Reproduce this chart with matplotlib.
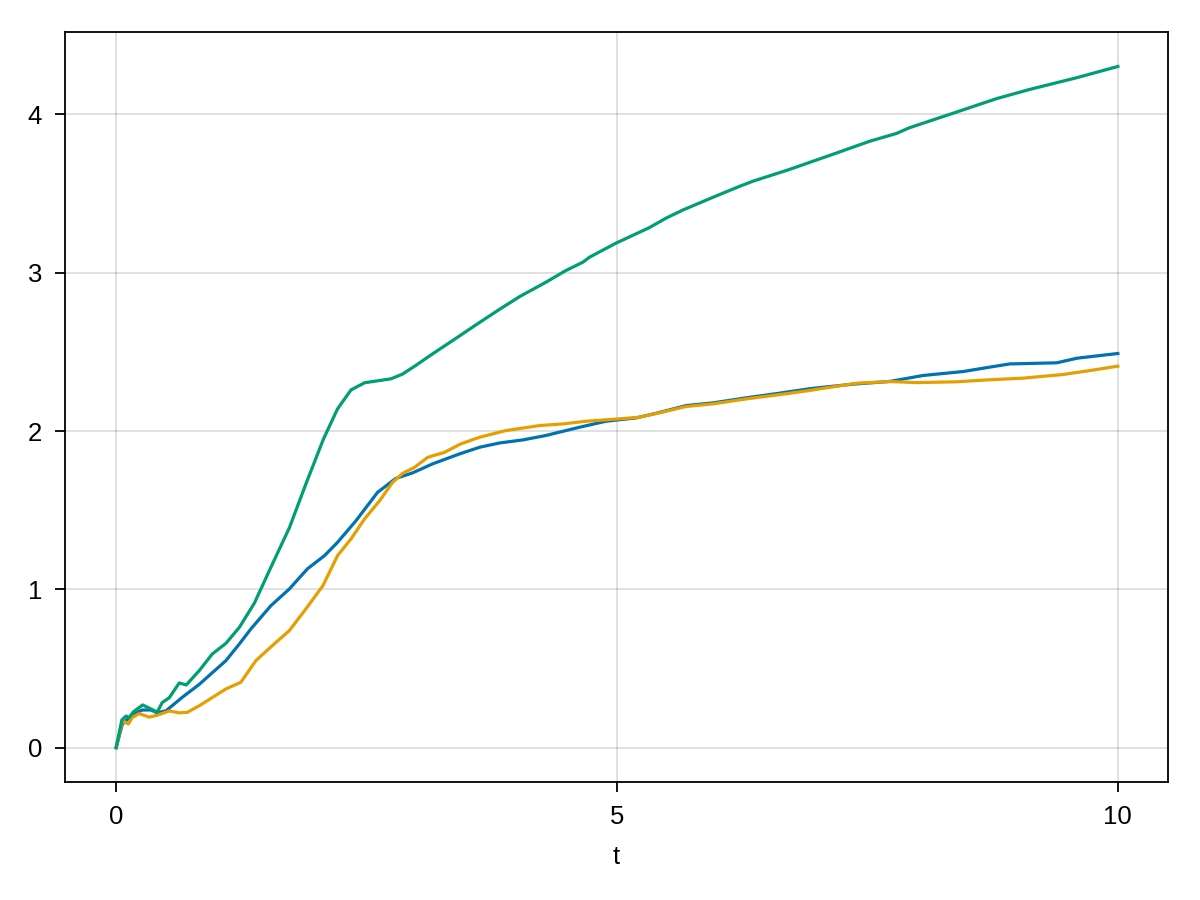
import matplotlib
matplotlib.use("Agg")
import matplotlib.pyplot as plt

plt.rcParams['font.family'] = ['Liberation Sans', 'DejaVu Sans']

# values
t_blue = [0, 0.063, 0.16, 0.26, 0.35, 0.41, 0.50, 0.66, 0.83, 1.096, 1.23, 1.345,
          1.545, 1.73, 1.91, 2.08, 2.21, 2.395, 2.61, 2.79, 2.96, 3.16, 3.43, 3.63,
          3.83, 4.06, 4.29, 4.625, 4.89, 5.19, 5.39, 5.69, 5.96, 6.29, 6.62, 6.92,
          7.06, 7.39, 7.72, 8.055, 8.455, 8.655, 8.92, 9.39, 9.59, 10.0]
y_blue = [0, 0.15, 0.205, 0.238, 0.238, 0.22, 0.234, 0.318, 0.40, 0.55, 0.655, 0.75,
          0.897, 1.003, 1.13, 1.213, 1.297, 1.434, 1.613, 1.70, 1.736, 1.793, 1.856, 1.898,
          1.925, 1.944, 1.972, 2.024, 2.062, 2.083, 2.112, 2.161, 2.178, 2.21, 2.239, 2.267,
          2.277, 2.298, 2.313, 2.351, 2.376, 2.397, 2.424, 2.431, 2.46, 2.49]

t_orange = [0, 0.063, 0.123, 0.16, 0.23, 0.33, 0.41, 0.53, 0.63, 0.71, 0.83, 1.096,
            1.245, 1.395, 1.56, 1.73, 1.91, 2.065, 2.21, 2.345, 2.48, 2.63, 2.76, 2.86,
            2.98, 3.11, 3.28, 3.44, 3.63, 3.89, 4.23, 4.46, 4.69, 5.02, 5.22, 5.42,
            5.69, 5.96, 6.29, 6.62, 6.92, 7.06, 7.39, 7.72, 7.99, 8.39, 8.72, 9.05,
            9.45, 9.72, 10.0]
y_orange = [0, 0.17, 0.15, 0.19, 0.215, 0.193, 0.205, 0.232, 0.22, 0.223, 0.265, 0.371,
            0.413, 0.55, 0.645, 0.74, 0.89, 1.024, 1.213, 1.319, 1.445, 1.56, 1.676, 1.733,
            1.771, 1.834, 1.866, 1.919, 1.961, 2.003, 2.035, 2.045, 2.062, 2.077, 2.087, 2.115,
            2.155, 2.172, 2.203, 2.23, 2.256, 2.27, 2.302, 2.313, 2.306, 2.311, 2.324, 2.334,
            2.357, 2.382, 2.41]

t_green = [0, 0.057, 0.1, 0.13, 0.17, 0.265, 0.33, 0.41, 0.46, 0.53, 0.63, 0.70,
           0.83, 0.96, 1.096, 1.23, 1.38, 1.56, 1.73, 1.895, 2.07, 2.21, 2.345, 2.48,
           2.744, 2.86, 2.99, 3.16, 3.36, 3.59, 3.83, 4.03, 4.29, 4.49, 4.66, 4.725,
           4.99, 5.32, 5.49, 5.66, 5.96, 6.22, 6.36, 6.71, 7.19, 7.52, 7.79, 7.92,
           8.39, 8.79, 9.12, 9.59, 10.0]
y_green = [0, 0.175, 0.2, 0.19, 0.225, 0.27, 0.25, 0.225, 0.285, 0.315, 0.409, 0.396,
           0.487, 0.592, 0.659, 0.76, 0.913, 1.16, 1.39, 1.667, 1.95, 2.14, 2.26, 2.305,
           2.33, 2.36, 2.414, 2.488, 2.572, 2.67, 2.77, 2.85, 2.94, 3.014, 3.067, 3.098,
           3.187, 3.284, 3.345, 3.397, 3.477, 3.545, 3.579, 3.65, 3.756, 3.83, 3.88, 3.916,
           4.015, 4.10, 4.158, 4.232, 4.303]

fig = plt.figure(figsize=(12, 9), dpi=100)
ax = fig.add_axes([0.0542, 0.1314, 0.9191, 0.8326])

ax.plot(t_blue, y_blue, color='#0072B2', lw=2.3)
ax.plot(t_orange, y_orange, color='#E69F00', lw=2.3)
ax.plot(t_green, y_green, color='#009E73', lw=2.3)

ax.set_xlim(-0.51, 10.5)
ymax = max(y_green)
ax.set_ylim(-0.05 * ymax, 1.05 * ymax)
ax.set_xticks([0, 5, 10])
ax.set_yticks([0, 1, 2, 3, 4])

ax.grid(True, color='black', alpha=0.12, lw=1.4)
ax.set_axisbelow(True)
for s in ax.spines.values():
    s.set_linewidth(1.3)
ax.tick_params(direction='out', length=7.5, width=1.3, labelsize=18.5, pad=9,
               top=False, right=False)
ax.set_xlabel('t', fontsize=18.5, labelpad=12)

fig.savefig('out.png', dpi=100)
